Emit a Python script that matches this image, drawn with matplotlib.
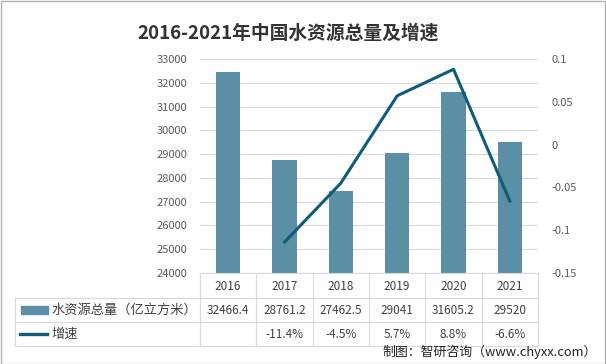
import numpy as np
import matplotlib
matplotlib.use("Agg")
import matplotlib.pyplot as plt
import matplotlib.transforms as mtransforms
from matplotlib.lines import Line2D
from matplotlib.patches import Rectangle

plt.rcParams['font.family'] = ['Noto Sans CJK SC', 'DejaVu Sans']

# data
years = ['2016', '2017', '2018', '2019', '2020', '2021']
water = [32466.4, 28761.2, 27462.5, 29041, 31605.2, 29520]
water_labels = ['32466.4', '28761.2', '27462.5', '29041', '31605.2', '29520']
growth = [None, -0.114, -0.045, 0.057, 0.088, -0.066]
growth_labels = ['', '-11.4%', '-4.5%', '5.7%', '8.8%', '-6.6%']
left_ticks = [24000, 25000, 26000, 27000, 28000, 29000, 30000, 31000, 32000, 33000]
right_ticks = [-0.15, -0.1, -0.05, 0, 0.05, 0.1]
right_tick_labels = ['-0.15', '-0.1', '-0.05', '0', '0.05', '0.1']

bar_color = '#5b8fa6'
line_color = '#0f5b79'
grid_color = '#d9d9d9'
text_color = '#595959'

W, H = 606, 364
fig = plt.figure(figsize=(W / 100, H / 100), dpi=100)
ax = fig.add_axes([200 / W, 1 - 273 / H, 338 / W, 214 / H])

x = np.arange(len(years))
ax.bar(x, water, width=0.43, color=bar_color, zorder=2)
ax.set_xlim(-0.5, len(years) - 0.5)
ax.set_ylim(24000, 33000)
ax.set_yticks(left_ticks)
ax.set_yticklabels([str(t) for t in left_ticks])
ax.yaxis.grid(True, color=grid_color, linewidth=0.8, zorder=0)
ax.set_xticks([])
ax.tick_params(axis='y', length=0, pad=9, labelsize=8, labelcolor=text_color)
for s in ['top', 'left', 'right']:
    ax.spines[s].set_visible(False)
ax.spines['bottom'].set_color(grid_color)

ax2 = ax.twinx()
gx = [i for i, g in enumerate(growth) if g is not None]
gy = [g for g in growth if g is not None]
ax2.plot(gx, gy, color=line_color, linewidth=2.2, zorder=3)
ax2.set_ylim(-0.15, 0.1)
ax2.set_yticks(right_ticks)
ax2.set_yticklabels(right_tick_labels)
ax2.tick_params(axis='y', length=0, pad=10, labelsize=8, labelcolor=text_color)
for s in ['top', 'left', 'right', 'bottom']:
    ax2.spines[s].set_visible(False)

# data table below the chart
tr = mtransforms.blended_transform_factory(ax.transData, fig.transFigure)
ftr = fig.transFigure
def fy(py):
    return 1 - py / H

rows_y = [273, 298, 322, 346]
lw = 0.8
for py in rows_y[1:]:
    fig.add_artist(Line2D([15 / W, 538 / W], [fy(py), fy(py)], color=grid_color, lw=lw, transform=ftr))
for i in range(len(years) + 1):
    ax.add_artist(Line2D([i - 0.5, i - 0.5], [fy(273), fy(346)], color=grid_color, lw=lw,
                         transform=tr, clip_on=False))
fig.add_artist(Line2D([15 / W, 15 / W], [fy(298), fy(346)], color=grid_color, lw=lw, transform=ftr))

for i in range(len(years)):
    ax.text(i, fy(286), years[i], transform=tr, ha='center', va='center', fontsize=8.5, color='#404040')
    ax.text(i, fy(310), water_labels[i], transform=tr, ha='center', va='center', fontsize=8.5, color='#404040')
    ax.text(i, fy(334), growth_labels[i], transform=tr, ha='center', va='center', fontsize=8.5, color='#404040')

# legend keys
fig.add_artist(Rectangle((21 / W, fy(314)), 27 / W, 8 / H, color=bar_color, transform=ftr))
fig.add_artist(Line2D([20 / W, 47 / W], [fy(334), fy(334)], color=line_color, lw=2.4, transform=ftr))
fig.text(51 / W, fy(310), '水资源总量（亿立方米）', fontsize=9.5, color='#404040', va='center', ha='left')
fig.text(51 / W, fy(334), '增速', fontsize=9.5, color='#404040', va='center', ha='left')

# title
fig.text(288 / W, fy(33), '2016-2021年中国水资源总量及增速', fontsize=13.5, fontweight='bold',
         color='#333333', ha='center', va='center')

# source
fig.text(597 / W, fy(352), '制图：智研咨询（www.chyxx.com）', fontsize=9.3, color='#222222',
         ha='right', va='center')

# outer border
fig.add_artist(Rectangle((0.5 / W, 0.5 / H), (W - 1.5) / W, (H - 1.5) / H, fill=False,
                         edgecolor='#b0b0b0', lw=1, transform=ftr))

fig.savefig('out.png', dpi=100)
